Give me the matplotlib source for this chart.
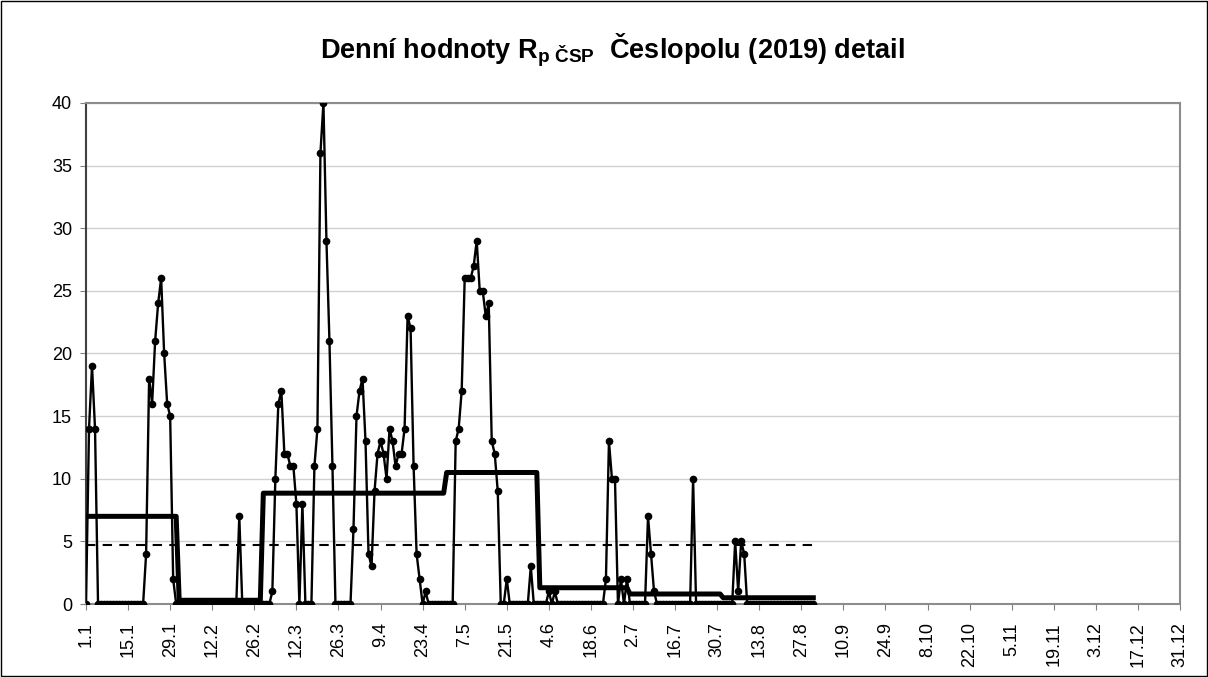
import numpy as np
import matplotlib.pyplot as plt
from matplotlib.patches import Rectangle

plt.rcParams['font.family'] = ['Liberation Sans', 'DejaVu Sans']
plt.rcParams['mathtext.fontset'] = 'custom'
plt.rcParams['mathtext.rm'] = 'Liberation Sans:bold'
plt.rcParams['mathtext.it'] = 'Liberation Sans:bold'
plt.rcParams['mathtext.bf'] = 'Liberation Sans:bold'

# daily values Rp CSP, 1.1. - 31.8.2019, one list per month
jan = [0, 14, 19, 14] + [0] * 16 + [4, 18, 16, 21, 24, 26, 20, 16, 15, 2, 0]
feb = [0] * 20 + [7] + [0] * 7
mar = [0, 0, 0, 1, 10, 16, 17, 12, 12, 11, 11, 8, 0, 8, 0, 0, 0,
       11, 14, 36, 40, 29, 21, 11, 0, 0, 0, 0, 0, 0, 6]
apr = [15, 17, 18, 13, 4, 3, 9, 12, 13, 12, 10, 14, 13, 11, 12, 12, 14,
       23, 22, 11, 4, 2, 0, 1, 0, 0, 0, 0, 0, 0]
may = [0, 0, 0, 13, 14, 17, 26, 26, 26, 27, 29, 25, 25, 23, 24, 13, 12, 9,
       0, 0, 2, 0, 0, 0, 0, 0, 0, 0, 3, 0, 0]
jun = [0, 0, 0, 1, 0, 1] + [0] * 16 + [2, 13, 10, 10, 0, 2, 0, 2]
jul = [0] * 6 + [7, 4, 1] + [0] * 12 + [10] + [0] * 9
aug = [0] * 4 + [5, 1, 5, 4] + [0] * 23

month_len = [31, 28, 31, 30, 31, 30, 31, 31]
month_mean = [7.0, 0.3, 8.85, 8.85, 10.5, 1.3, 0.8, 0.5]
overall_mean = 4.75

tick_labels = ['1.1', '15.1', '29.1', '12.2', '26.2', '12.3', '26.3', '9.4',
               '23.4', '7.5', '21.5', '4.6', '18.6', '2.7', '16.7', '30.7',
               '13.8', '27.8', '10.9', '24.9', '8.10', '22.10', '5.11',
               '19.11', '3.12', '17.12', '31.12']

daily = np.array(jan + feb + mar + apr + may + jun + jul + aug, dtype=float)
days = np.arange(len(daily))
mean_line = np.repeat(month_mean, month_len)

fig = plt.figure(figsize=(12.08, 6.77), dpi=100)
ax = fig.add_axes([0.0712, 0.1078, 0.9056, 0.7401])

ax.plot(days, mean_line, color='black', lw=3.6, zorder=3)
ax.plot(days, np.full(len(days), overall_mean), color='black', lw=1.5,
        dashes=(4.5, 3.5), zorder=2)
ax.plot(days, daily, color='black', lw=1.7, marker='o', ms=4.5, zorder=4)

ax.set_xlim(0, 364)
ax.set_ylim(0, 40)
ax.set_yticks(np.arange(0, 41, 5))
ax.set_xticks(np.arange(0, 365, 14))
ax.set_xticklabels(tick_labels, rotation=90)
ax.tick_params(axis='both', labelsize=13, length=4, color='#808080')
ax.tick_params(axis='x', pad=9)
ax.tick_params(axis='y', pad=6)
ax.grid(axis='y', color='#d0d0d0', lw=1)
ax.set_axisbelow(True)
for side in ['top', 'right', 'bottom']:
    ax.spines[side].set_color('#8c8c8c')
    ax.spines[side].set_linewidth(1.5)
ax.spines['left'].set_color('#404040')
ax.spines['left'].set_linewidth(1.5)

fig.text(0.507, 0.925, 'Denní hodnoty R$_{\\mathrm{p\\ ČSP}}$  Česlopolu (2019) detail',
         ha='center', va='center', fontsize=19.5, fontweight='bold')

fig.patches.append(Rectangle((0.0008, 0.0015), 0.9984, 0.997, transform=fig.transFigure,
                             fill=False, edgecolor='black', lw=1))

fig.savefig('out.png', dpi=100)
